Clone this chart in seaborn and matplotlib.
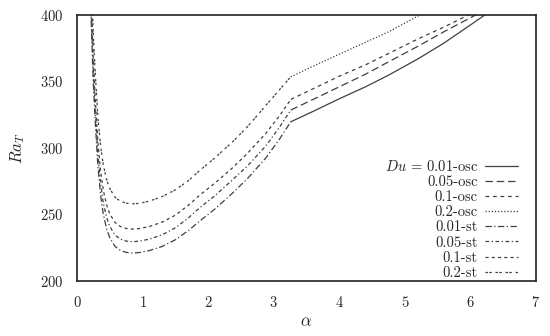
import matplotlib
matplotlib.use("Agg")
import matplotlib.pyplot as plt
import seaborn as sns

# stationary branches (alpha grid shared)
alpha_st = [0.21, 0.22, 0.23, 0.25, 0.28, 0.32, 0.36, 0.40, 0.45, 0.50, 0.58, 0.66, 0.75,
            0.85, 0.95, 1.1, 1.3, 1.5, 1.7, 1.87, 2.1, 2.37, 2.6, 2.88, 3.1, 3.26]
ra_st_001 = [405, 390, 375, 347, 318, 285.5, 264.5, 250.5, 239.5, 232.5, 226, 223, 221.5,
             221, 221.4, 222.8, 226, 231, 238, 245, 254, 266, 277, 292.5, 307.5, 319.7]
ra_st_005 = [413, 398.5, 383.5, 355.5, 326.5, 294, 273, 259, 248, 241, 234.5, 231.5, 230,
             229.5, 230, 231.4, 234.8, 240, 247.5, 255, 264, 276, 286.5, 301.5, 316.5, 328.5]
ra_st_01 = [423, 408, 393, 365, 336, 303.5, 282.5, 268.5, 257.5, 250.5, 244, 241, 239.5,
            239, 239.4, 240.9, 244.3, 249.5, 257, 264.5, 273.5, 285, 296, 311, 325, 336.5]
ra_st_02 = [442, 427, 412, 384, 355, 322.5, 301.5, 287.5, 276.5, 269.5, 263, 260, 258.5,
            258, 258.4, 260, 263.5, 268.5, 275.5, 283, 292.5, 304.5, 316, 332, 344.5, 353.5]

# oscillatory branches
alpha_osc_001 = [3.26, 3.6, 4.0, 4.4, 4.75, 5.2, 5.6, 6.0, 6.22, 6.4]
ra_osc_001 = [319.7, 327.5, 337, 346, 354.7, 367, 379, 392.5, 400, 406]
alpha_osc_005 = [3.26, 3.6, 4.0, 4.4, 4.75, 5.2, 5.6, 6.08, 6.3]
ra_osc_005 = [328.5, 336.5, 346, 355.5, 364.7, 376.5, 387.5, 400, 406]
alpha_osc_01 = [3.26, 3.6, 4.0, 4.4, 4.75, 5.2, 5.6, 5.97, 6.2]
ra_osc_01 = [336.5, 344.5, 354, 362.5, 371, 382, 391, 400, 406]
alpha_osc_02 = [3.26, 3.6, 4.0, 4.4, 4.75, 5.23, 5.5]
ra_osc_02 = [353.5, 361.5, 370.5, 379.5, 387.3, 400, 407]

labels = [r"$Du$ = 0.01-osc", "0.05-osc", "0.1-osc", "0.2-osc",
          "0.01-st", "0.05-st", "0.1-st", "0.2-st"]

sns.set_theme(style="white")
plt.rcParams["font.family"] = ["cmr10", "DejaVu Serif"]
plt.rcParams["mathtext.fontset"] = "cm"
plt.rcParams["axes.formatter.use_mathtext"] = True

fig = plt.figure(figsize=(5.5, 3.36), dpi=100)
ax = fig.add_axes([0.14, 0.1637, 0.8345, 0.7917])

curves = [
    (alpha_osc_001, ra_osc_001, "-"),
    (alpha_osc_005, ra_osc_005, (0, (6, 3))),
    (alpha_osc_01, ra_osc_01, (0, (3, 3))),
    (alpha_osc_02, ra_osc_02, (0, (1, 1.5))),
    (alpha_st, ra_st_001, (0, (5, 2, 1, 2))),
    (alpha_st, ra_st_005, (0, (3, 2, 1, 2))),
    (alpha_st, ra_st_01, (0, (2.5, 2.5))),
    (alpha_st, ra_st_02, (0, (2, 1, 2, 3))),
]
for (a, r, ls), lab in zip(curves, labels):
    sns.lineplot(x=a, y=r, ax=ax, color="#404040", lw=0.9, linestyle=ls,
                 label=lab, sort=False, estimator=None)

ax.set_xlim(0, 7)
ax.set_ylim(200, 400)
ax.set_xticks(range(0, 8))
ax.set_yticks([200, 250, 300, 350, 400])
ax.set_xlabel(r"$\alpha$", fontsize=12, labelpad=3)
ax.set_ylabel(r"$Ra_T$", fontsize=12, labelpad=9)
ax.tick_params(axis="x", direction="in", length=4, width=1, labelsize=10.5, pad=10, color="#222222")
ax.tick_params(axis="y", direction="out", length=4, width=1, labelsize=10.5, pad=6, color="#222222")
for s in ax.spines.values():
    s.set_color("#222222")
    s.set_linewidth(1.2)

ax.legend(loc="upper right", bbox_to_anchor=(0.961, 0.46), frameon=False,
          markerfirst=False, fontsize=10.5, labelspacing=0.1, handlelength=2.3,
          handletextpad=0.45, borderaxespad=0, borderpad=0)

fig.savefig("out.png", dpi=100)
